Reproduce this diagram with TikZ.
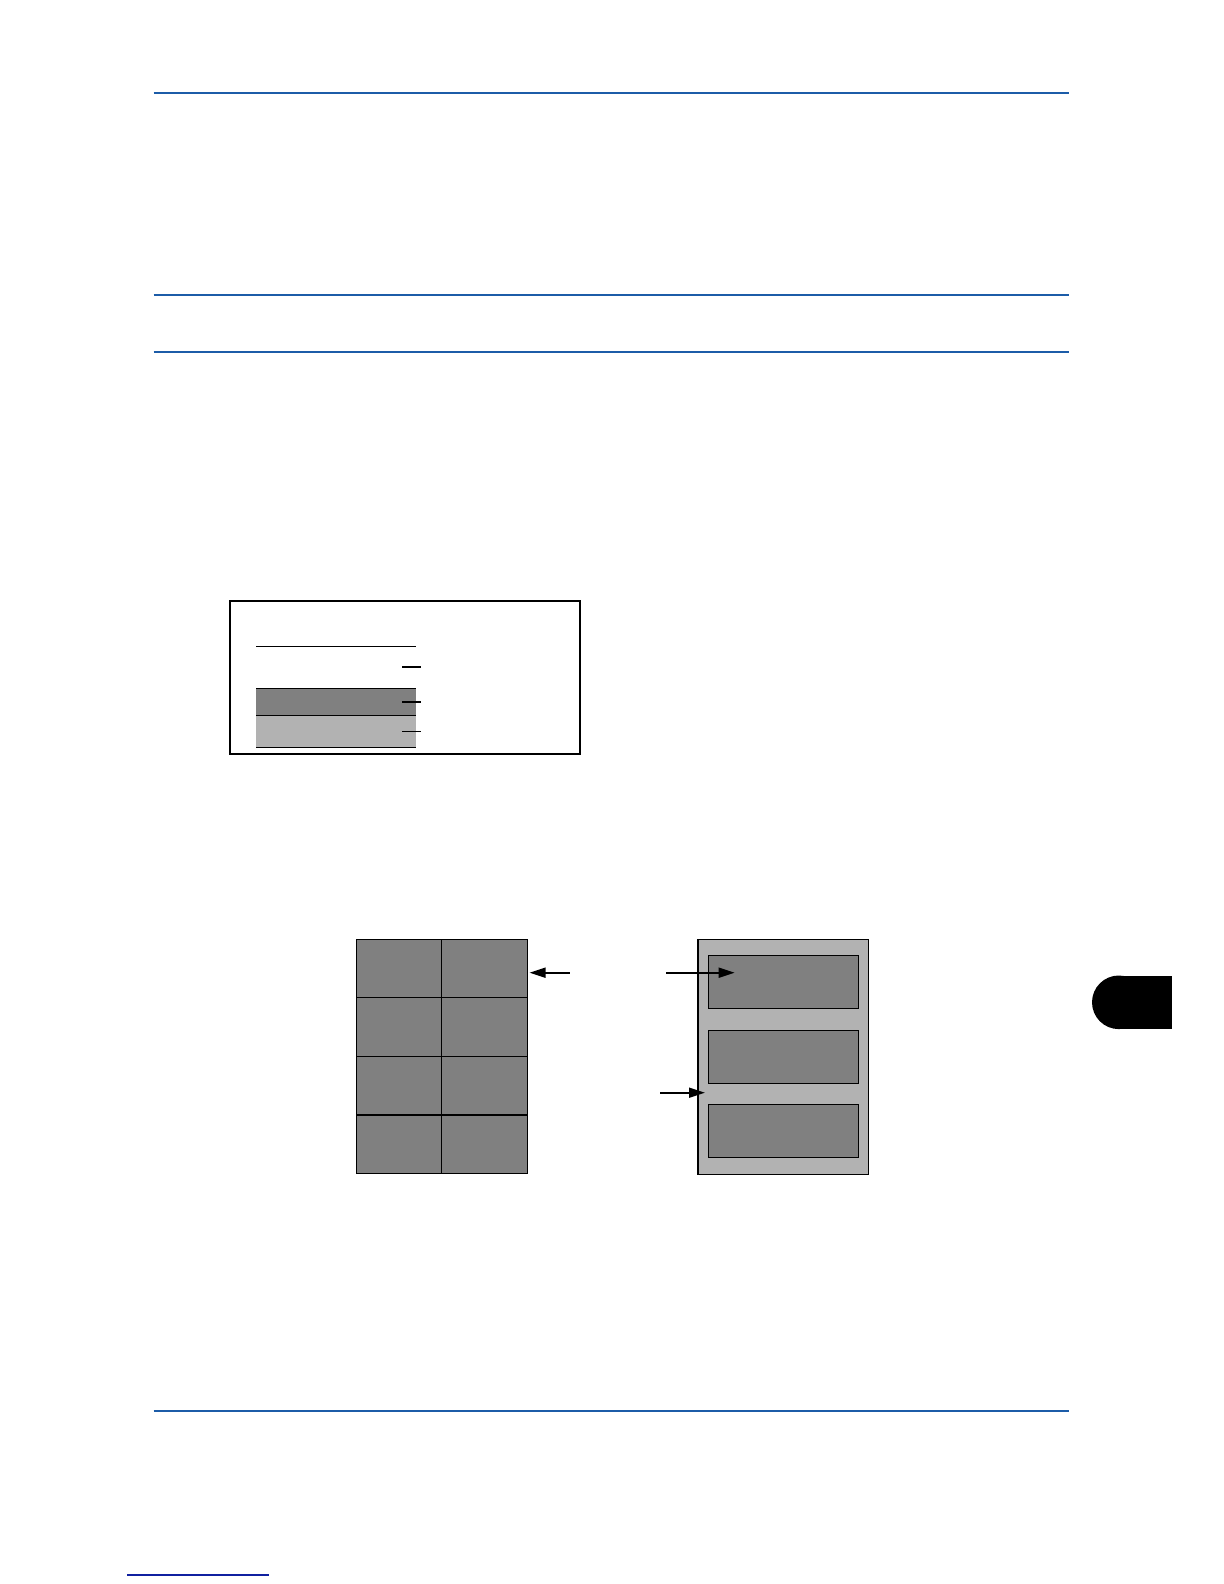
\documentclass[tikz,border=0pt]{standalone}
\usepackage{tikz}
\usetikzlibrary{arrows.meta}
\definecolor{rulebl}{RGB}{28,92,168}
\definecolor{navyrule}{RGB}{16,32,160}
\definecolor{darkgr}{gray}{0.5}
\definecolor{lightgr}{gray}{0.7}

\begin{document}
\begin{tikzpicture}[x=0.5pt,y=-0.5pt,>={Triangle[length=8pt,width=5pt]},line width=0.6pt]
\tikzstyle{rule}=[draw=rulebl,line width=0.75pt]
\tikzstyle{cell}=[draw=black,fill=darkgr,line width=0.6pt]
\tikzstyle{pointer}=[->,line width=0.9pt]
\useasboundingbox (0,0) rectangle (1224,1584);
\foreach \y in {93,295,352,1411} \draw[rule] (153.5,\y) -- (1068.5,\y);
\draw[draw=navyrule,line width=0.9pt] (127,1575) -- (269,1575);

\draw[line width=1pt] (230,601) rectangle (580,754);
\fill[darkgr] (256,688) rectangle (416,715);
\fill[lightgr] (256,715) rectangle (416,747);
\foreach \y in {646,688,715,747} \draw[line width=0.5pt] (256,\y) -- (416,\y);
\draw[line width=1pt] (402,666.7) -- (421,666.7);
\draw[line width=1pt] (402,701.7) -- (421,701.7);
\draw[line width=0.5pt] (402,731.3) -- (421,731.3);

\foreach \i in {0,...,3}
  \foreach \j in {0,1}
    \draw[cell] (356.5+85.35*\j,939.3+58.55*\i) rectangle ++(85.35,58.55);

\draw[fill=lightgr] (698,939.3) rectangle (868.5,1174.3);
\foreach \y in {955.3,1030.3,1104.3} \draw[cell] (708.2,\y) rectangle ++(150,53.5);

\coordinate (gridtip) at (529.5,972.7);
\coordinate (gridtail) at (569.6,972.7);
\coordinate (panetail) at (666,972.7);
\coordinate (panetip) at (734.6,972.7);
\coordinate (margintail) at (660,1092.7);
\coordinate (margintip) at (705,1092.7);
\draw[pointer] (gridtail) -- (gridtip);
\draw[pointer] (panetail) -- (panetip);
\draw[pointer] (margintail) -- (margintip);

\fill (1118.8,1002.3) circle[radius=26.8];
\fill (1118.8,975.5) rectangle (1171.5,1029.1);
\end{tikzpicture}
\end{document}
